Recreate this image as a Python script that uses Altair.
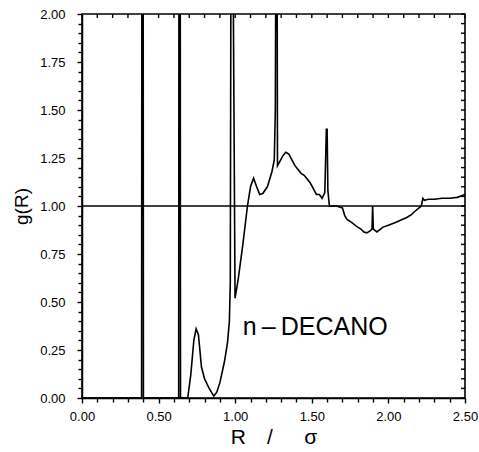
import altair as alt
import pandas as pd

# g(R) curve
R_VALUES = [0.00, 0.389, 0.395, 0.401, 0.631, 0.637, 0.643, 0.69, 0.71, 0.73, 0.745, 0.76, 0.78, 0.80, 0.83, 0.86,
            0.88, 0.90, 0.93, 0.95, 0.962, 0.968, 0.974, 0.981, 0.999, 1.02, 1.05, 1.08, 1.10, 1.12, 1.14, 1.16, 1.18,
            1.21, 1.24, 1.255, 1.262, 1.268, 1.272, 1.276, 1.29, 1.31, 1.33, 1.35, 1.37, 1.39, 1.41, 1.43, 1.45,
            1.47, 1.49, 1.51, 1.53, 1.55, 1.567, 1.585, 1.595, 1.600, 1.605, 1.615, 1.66, 1.70, 1.715, 1.73, 1.76,
            1.79, 1.82, 1.84, 1.86, 1.88, 1.893, 1.897, 1.902, 1.925, 1.965, 2.00, 2.05, 2.09, 2.12, 2.15, 2.17,
            2.20, 2.215, 2.225, 2.235, 2.26, 2.30, 2.35, 2.40, 2.45, 2.50]
G_VALUES = [0.00, 0.00, 8.0, 0.00, 0.00, 8.0, 0.00, 0.00, 0.12, 0.30, 0.36, 0.33, 0.16, 0.10, 0.05, 0.01,
            0.03, 0.08, 0.19, 0.29, 0.40, 0.60, 3.0, 3.0, 0.52, 0.62, 0.80, 1.00, 1.10, 1.145, 1.10, 1.06, 1.065,
            1.10, 1.18, 1.24, 1.50, 3.0, 3.0, 1.21, 1.23, 1.26, 1.28, 1.27, 1.24, 1.21, 1.19, 1.17, 1.16,
            1.14, 1.12, 1.09, 1.06, 1.06, 1.04, 1.07, 1.40, 1.40, 1.08, 1.00, 1.00, 0.99, 0.95, 0.93, 0.915,
            0.895, 0.88, 0.865, 0.86, 0.87, 0.88, 1.00, 0.88, 0.865, 0.89, 0.90, 0.915, 0.93, 0.94, 0.955, 0.97,
            0.99, 1.00, 1.04, 1.03, 1.035, 1.035, 1.04, 1.04, 1.045, 1.06]

X_TICKS = [0.0, 0.1, 0.2, 0.3, 0.4, 0.5, 0.6, 0.7, 0.8, 0.9, 1.0, 1.1, 1.2, 1.3, 1.4, 1.5, 1.6, 1.7,
           1.8, 1.9, 2.0, 2.1, 2.2, 2.3, 2.4, 2.5]
Y_TICKS = [0.0, 0.05, 0.1, 0.15, 0.2, 0.25, 0.3, 0.35, 0.4, 0.45, 0.5, 0.55, 0.6, 0.65, 0.7, 0.75,
           0.8, 0.85, 0.9, 0.95, 1.0, 1.05, 1.1, 1.15, 1.2, 1.25, 1.3, 1.35, 1.4, 1.45, 1.5, 1.55,
           1.6, 1.65, 1.7, 1.75, 1.8, 1.85, 1.9, 1.95, 2.0]
REF_LEVEL = [1.0]
LABEL_TEXT = ["n\u2009\u2013\u2009DECANO"]
LABEL_R = [1.05]
LABEL_G = [0.33]

W, H = 383, 384
FONT = "Liberation Sans"

curve = pd.DataFrame({"R": R_VALUES, "g": G_VALUES, "i": list(range(len(R_VALUES)))})
xt = pd.DataFrame({"R": X_TICKS})
yt = pd.DataFrame({"g": Y_TICKS})
ref = pd.DataFrame({"g": REF_LEVEL})
lab = pd.DataFrame({"R": LABEL_R, "g": LABEL_G, "t": LABEL_TEXT})

xs = alt.Scale(domain=[0, 2.5], nice=False, zero=False)
ys = alt.Scale(domain=[0, 2], nice=False, zero=False)

x_major = "abs(datum.value*2 - round(datum.value*2)) < 0.001"
y_major = "abs(datum.value*4 - round(datum.value*4)) < 0.001"

xaxis = alt.Axis(
    values=X_TICKS, labelExpr=f"{x_major} ? format(datum.value, '.2f') : ''",
    tickSize={"condition": {"test": x_major, "value": 5}, "value": 4},
    labelOverlap=False, labelFlush=False, labelBound=False, grid=False,
    title="R\u2003/\u2003\u2002\u03c3\u2002", titleFontSize=21, titleFont=FONT, titleFontWeight="normal",
    titleColor="black", titlePadding=3,
    labelFont=FONT, labelFontSize=13, labelColor="black", labelPadding=7,
    domainColor="black", domainWidth=1.5, tickColor="black", tickWidth=1.4,
)
yaxis = alt.Axis(
    values=Y_TICKS, labelExpr=f"{y_major} ? format(datum.value, '.2f') : ''",
    tickSize={"condition": {"test": y_major, "value": 5}, "value": 4},
    labelOverlap=False, labelFlush=False, labelBound=False, grid=False,
    title="g(R)", titleFontSize=19, titleFont=FONT, titleFontWeight="normal",
    titleColor="black", titlePadding=8,
    labelFont=FONT, labelFontSize=13, labelColor="black", labelPadding=12,
    domainColor="black", domainWidth=1.5, tickColor="black", tickWidth=1.4,
)

xenc = alt.X("R:Q", scale=xs, axis=xaxis)
yenc = alt.Y("g:Q", scale=ys, axis=yaxis)

line = alt.Chart(curve).mark_line(color="black", strokeWidth=1.6, clip=True).encode(
    x=xenc, y=yenc, order=alt.Order("i:Q"))
hline = alt.Chart(ref).mark_rule(color="black", strokeWidth=1.6).encode(y=yenc)
top_ticks = alt.Chart(xt).mark_rule(color="black", strokeWidth=1.4).encode(
    x=xenc, y=alt.value(0), y2=alt.value(4))
right_ticks = alt.Chart(yt).mark_rule(color="black", strokeWidth=1.4).encode(
    y=yenc, x=alt.value(W), x2=alt.value(W - 4))
text = alt.Chart(lab).mark_text(align="left", baseline="alphabetic", fontSize=25, font=FONT,
                                color="black").encode(x=xenc, y=yenc, text="t:N")

chart = alt.layer(hline, line, top_ticks, right_ticks, text).properties(
    width=W, height=H,
    autosize=alt.AutoSizeParams(type="none"),
    padding={"left": 82, "top": 14, "right": 14, "bottom": 54},
    background="white",
).configure_view(stroke="black", strokeWidth=1.6)

chart.save("out.html", embed_options={"renderer": "svg", "actions": False})
